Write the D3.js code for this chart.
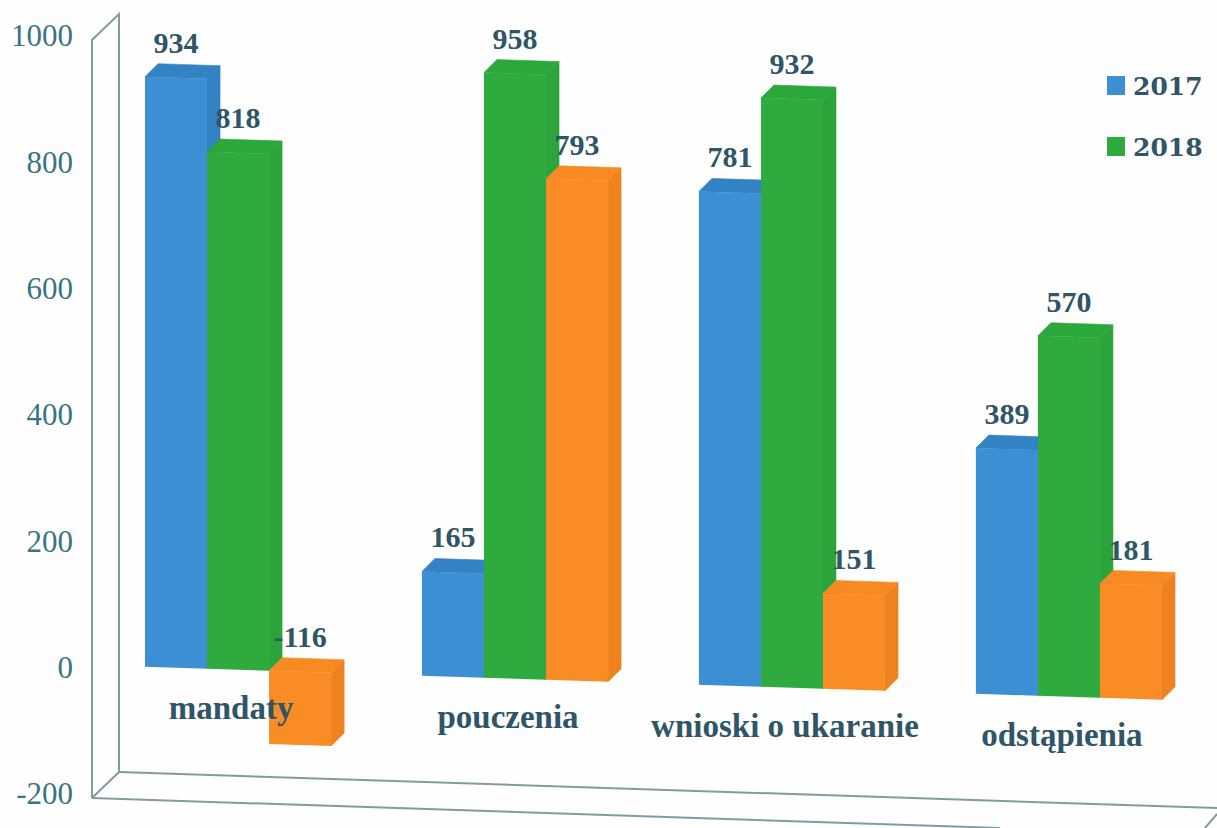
<!DOCTYPE html>
<html>
<head>
<meta charset="utf-8">
<script src="https://cdnjs.cloudflare.com/ajax/libs/d3/7.8.5/d3.min.js"></script>
<style>
  body { margin: 0; background: #fefefe; }
  svg { display: block; }
  .frame { fill: none; stroke: #7f9da0; stroke-width: 2; }
  .tick text { font-family: "Liberation Serif", serif; font-size: 31px; fill: #3a7482; }
  .value { font-family: "Liberation Serif", serif; font-weight: bold; font-size: 30px; fill: #2f5566; text-anchor: middle; }
  .category { font-family: "Liberation Serif", serif; font-weight: bold; font-size: 33px; fill: #2f5566; text-anchor: middle; }
  .legend { font-family: "DejaVu Serif", serif; font-weight: bold; font-size: 25px; fill: #2f5566; }
</style>
</head>
<body>
<svg id="chart" width="1217" height="828"></svg>
<script>
const categories = ['mandaty', 'pouczenia', 'wnioski o ukaranie', 'odstąpienia'];
const series = ['2017', '2018', 'różnica'];
const values2017 = [934, 165, 781, 389];
const values2018 = [818, 958, 932, 570];
const valuesDiff = [-116, 793, 151, 181];
const tickValues = [-200, 0, 200, 400, 600, 800, 1000];
const legendNames = ['2017', '2018'];

const frontColors = ['#3b8fd2', '#2eaa3e', '#fa8c25'];
const topColors = ['#3282c4', '#2ca73c', '#f88a23'];
const sideColors = ['#3282c4', '#2ba53b', '#ee821e'];

const svg = d3.select('#chart');

const xGroup = d3
  .scaleBand()
  .domain(categories)
  .range([145, 1162])
  .paddingInner(0.328);

const xBar = d3
  .scaleBand()
  .domain(series)
  .range([0, xGroup.bandwidth()]);

const yScale = d3
  .scaleLinear()
  .domain([-200, 1000])
  .range([794, 36]);

// the floor runs downhill to the right, everything gets pushed by this much
const drop = d3
  .scaleLinear()
  .domain([145, 1217])
  .range([-1, 34]);

const depth = 13;
const line = d3.line();

// back wall and floor
const frame = svg.append('g').attr('class', 'frame');
[
  [[92, 798], [92, 40], [119, 14], [119, 772], [92, 798]],
  [[119, 772], [1217, 808]],
  [[92, 798], [1000, 828]],
  [[1205, 828], [1217, 814]],
].forEach(pts => frame.append('path').attr('d', line(pts)));

// y axis, labels only
const yAxis = d3
  .axisLeft(yScale)
  .tickValues(tickValues)
  .tickSize(0)
  .tickPadding(0)
  .tickFormat(d => String(d));

svg
  .append('g')
  .attr('transform', 'translate(73, 0)')
  .call(yAxis)
  .call(g => g.select('.domain').remove());

const allValues = [values2017, values2018, valuesDiff];

// flat list of bars, drawn left to right so each one covers the side of the previous
const bars = [];
categories.forEach((cat, c) => {
  series.forEach((s, i) => {
    const x0 = xGroup(cat) + xBar(s);
    bars.push({ value: allValues[i][c], i, x0, x1: x0 + xBar.bandwidth() });
  });
});

const px = (x, v) => [x, yScale(v) + drop(x)];

const barG = svg
  .selectAll('g.bar')
  .data(bars)
  .enter()
  .append('g')
  .classed('bar', true);

const hi = d => Math.max(d.value, 0);
const lo = d => Math.min(d.value, 0);
const back = p => [p[0] + depth, p[1] - depth];

// side face
barG
  .append('path')
  .attr('fill', d => sideColors[d.i])
  .attr('stroke', d => sideColors[d.i])
  .attr('stroke-width', 0.6)
  .attr('d', d => {
    const a = px(d.x1, hi(d));
    const b = px(d.x1, lo(d));
    return line([a, back(a), back(b), b]) + 'Z';
  });

// top face
barG
  .append('path')
  .attr('fill', d => topColors[d.i])
  .attr('stroke', d => topColors[d.i])
  .attr('stroke-width', 0.6)
  .attr('d', d => {
    const a = px(d.x0, hi(d));
    const b = px(d.x1, hi(d));
    return line([a, back(a), back(b), b]) + 'Z';
  });

// front face
barG
  .append('path')
  .attr('fill', d => frontColors[d.i])
  .attr('d', d => line([px(d.x0, hi(d)), px(d.x1, hi(d)), px(d.x1, lo(d)), px(d.x0, lo(d))]) + 'Z');

// value labels on top of all the bars
svg
  .selectAll('text.value')
  .data(bars)
  .enter()
  .append('text')
  .attr('class', 'value')
  .attr('x', d => (d.x0 + d.x1) / 2)
  .attr('y', d => px((d.x0 + d.x1) / 2, hi(d))[1] - 25)
  .text(d => d.value);

// category labels
svg
  .selectAll('text.category')
  .data(categories)
  .enter()
  .append('text')
  .attr('class', 'category')
  .attr('x', d => xGroup(d) + xGroup.bandwidth() / 2 - 7)
  .attr('y', d => px(xGroup(d) + xGroup.bandwidth() / 2, 0)[1] + 49)
  .text(d => d);

// legend
const legendY = d3
  .scalePoint()
  .domain(legendNames)
  .range([85, 146]);

const legend = svg
  .selectAll('g.legendItem')
  .data(legendNames)
  .enter()
  .append('g')
  .classed('legendItem', true)
  .attr('transform', d => `translate(1107, ${legendY(d)})`);

legend
  .append('rect')
  .attr('y', -9)
  .attr('width', 18)
  .attr('height', 19)
  .attr('fill', (d, i) => frontColors[i]);

legend
  .append('text')
  .attr('class', 'legend')
  .attr('x', 26)
  .attr('y', 10)
  .text(d => d);
</script>
</body>
</html>
